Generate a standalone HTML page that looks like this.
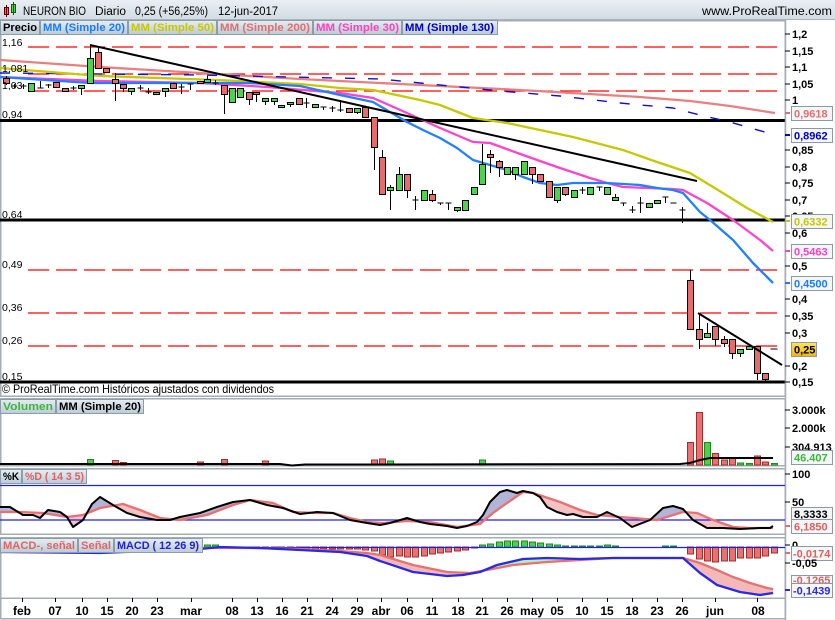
<!DOCTYPE html>
<html><head><meta charset="utf-8"><style>
html,body{margin:0;padding:0;background:#fff;}
svg{display:block;font-family:"Liberation Sans",Arial,sans-serif;}
.w{stroke:#000;stroke-width:1;fill:none}
.r{fill:#e46c6c;stroke:#000;stroke-width:1}
.g{fill:#4cd44c;stroke:#000;stroke-width:1}
.vr{fill:#e87272;stroke:#a52a2a;stroke-width:1}
.vg{fill:#4cd04c;stroke:#1a8a1a;stroke-width:1}
.ax{font-size:11px;font-weight:bold;fill:#000}
.lg{font-size:11px;font-weight:bold}
.xl{font-size:12px;font-weight:bold;fill:#000;text-anchor:middle}
.pl{font-size:10.5px;fill:#000}
</style></head><body>
<svg width="835" height="620" viewBox="0 0 835 620" xmlns="http://www.w3.org/2000/svg">
<defs>
<linearGradient id="tb" x1="0" y1="0" x2="0" y2="1"><stop offset="0" stop-color="#eaeff4"/><stop offset="1" stop-color="#d2dbe3"/></linearGradient>
<linearGradient id="lb" x1="0" y1="0" x2="0" y2="1"><stop offset="0" stop-color="#e6edf2"/><stop offset="1" stop-color="#bccbd6"/></linearGradient>
<linearGradient id="gold" x1="0" y1="0" x2="0" y2="1"><stop offset="0" stop-color="#ffe45a"/><stop offset="1" stop-color="#f0b800"/></linearGradient>
<clipPath id="aboveD"><polygon points="0,512 20,512 43,513 67,517 83,515 100,508 123,504 140,510 160,518 180,520 207,515 233,505 250,500 273,503 293,512 317,513 333,513 350,518 367,522 383,523 407,521 430,522 457,527 480,524 493,513 507,503 523,492 533,493 560,502 580,510 597,515 620,517 633,518 657,520 683,512 697,513 713,520 733,527 750,528 773,528 773,460 0,460"/></clipPath>
<clipPath id="belowD"><polygon points="0,512 20,512 43,513 67,517 83,515 100,508 123,504 140,510 160,518 180,520 207,515 233,505 250,500 273,503 293,512 317,513 333,513 350,518 367,522 383,523 407,521 430,522 457,527 480,524 493,513 507,503 523,492 533,493 560,502 580,510 597,515 620,517 633,518 657,520 683,512 697,513 713,520 733,527 750,528 773,528 773,540 0,540"/></clipPath>
<clipPath id="aboveS"><polygon points="0,549 100,549 200,548 250,548 300,549 340,551 367,553 380,555 413,565 447,572 470,573 487,570 513,565 547,562 580,560 613,558 683,558 700,563 717,570 733,577 750,583 767,588 773,589 773,537 0,537"/></clipPath>
<clipPath id="belowS"><polygon points="0,549 100,549 200,548 250,548 300,549 340,551 367,553 380,555 413,565 447,572 470,573 487,570 513,565 547,562 580,560 613,558 683,558 700,563 717,570 733,577 750,583 767,588 773,589 773,600 0,600"/></clipPath>
</defs>

<!-- Title bar -->
<rect x="0" y="0" width="835" height="20" fill="url(#tb)"/>
<line x1="0" y1="19.5" x2="835" y2="19.5" stroke="#a8b2ba"/>
<rect x="4.5" y="7.5" width="4" height="7" fill="#e46c6c" stroke="#600"/>
<line x1="6.5" y1="5" x2="6.5" y2="17" stroke="#600"/>
<rect x="11.5" y="4.5" width="4" height="8" fill="#4cd44c" stroke="#060"/>
<line x1="13.5" y1="2" x2="13.5" y2="15" stroke="#060"/>
<text x="23" y="15" font-size="11.5" textLength="63" lengthAdjust="spacingAndGlyphs">NEURON BIO</text>
<text x="95" y="15" font-size="11.5" textLength="31" lengthAdjust="spacingAndGlyphs">Diario</text>
<text x="135" y="15" font-size="11.5" textLength="73" lengthAdjust="spacingAndGlyphs">0,25 (+56,25%)</text>
<text x="218" y="15" font-size="11.5" textLength="60" lengthAdjust="spacingAndGlyphs">12-jun-2017</text>
<text x="702" y="15" font-size="12" textLength="130" lengthAdjust="spacingAndGlyphs">www.ProRealTime.com</text>

<!-- Panel borders -->
<g fill="none" stroke="#a4aeb6" stroke-width="1.5">
<rect x="0.75" y="20.75" width="784.5" height="375.5"/>
<rect x="0.75" y="398.75" width="784.5" height="67"/>
<rect x="0.75" y="468.75" width="784.5" height="65.5"/>
<rect x="0.75" y="537.75" width="784.5" height="60.5"/>
<rect x="0.75" y="598.25" width="784.5" height="20.5"/>
</g>

<!-- Main panel horizontal lines -->
<g stroke="#ff0000" stroke-width="1.3" stroke-dasharray="21 7">
<line x1="28" y1="47" x2="777" y2="47"/>
<line x1="28" y1="74" x2="777" y2="74"/>
<line x1="28" y1="91" x2="777" y2="91"/>
<line x1="28" y1="270" x2="777" y2="270"/>
<line x1="28" y1="313" x2="777" y2="313"/>
<line x1="28" y1="346" x2="777" y2="346"/>
</g>
<g stroke="#000" stroke-width="3">
<line x1="0" y1="120.5" x2="785" y2="120.5"/>
<line x1="0" y1="220" x2="785" y2="220"/>
<line x1="0" y1="382" x2="785" y2="382"/>
</g>

<!-- Moving averages -->
<g fill="none" stroke-width="2.3" stroke-linejoin="round">
<polyline stroke="#e88080" points="0,60 100,67 200,73 300,79 420,85 520,90 640,97 690,101 730,106 775,113"/>
<polyline stroke="#1010d0" stroke-width="1.4" stroke-dasharray="10 13" points="0,73 200,75 380,79 440,85 500,91 560,96 620,103 673,108 700,115 730,122 775,135"/>
<polyline stroke="#c8c800" points="0,68 100,76 217,80 300,84 340,88 373,90 420,100 440,105 473,118 507,123 573,137 623,150 657,162 690,173 718,190 747,208 773,222"/>
<polyline stroke="#ff44cc" points="0,77 100,81 200,83 267,87 340,93 373,98 407,113 440,128 473,142 490,143 523,155 557,167 590,178 607,183 623,187 673,189 683,190 707,203 733,220 760,240 773,251"/>
<polyline stroke="#2080ff" points="0,77 90,83 250,83 300,86 340,95 373,102 390,112 407,122 423,130 440,138 457,148 473,160 490,165 507,170 523,177 540,183 557,185 573,183 607,183 640,185 657,188 673,190 683,193 700,212 710,220 733,240 753,263 773,283"/>
</g>

<!-- Candles wicks -->
<path class="w" d="M6.5 76V85 M14.5 84V88 M11.5 86H17.5 M23.5 84V89 M20.5 86H26.5 M31.5 83V91 M40.5 81V88 M37.5 88H43.5 M48.5 84V88 M45.5 85H51.5 M56.5 82V87 M65.5 88V91 M73.5 86V90 M70.5 88H76.5 M81.5 85V95 M90.5 46V83 M98.5 48V68 M106.5 68V72 M115.5 73V101 M123.5 84V92 M131.5 88V95 M140.5 85V90 M137.5 88H143.5 M148.5 88V94 M145.5 92H151.5 M156.5 92V94 M165.5 88V97 M173.5 83V88 M181.5 84V94 M178.5 87H184.5 M190.5 84V90 M187.5 84H193.5 M200.5 81V83 M207.5 76V82 M215.5 80V85 M212.5 83H218.5 M224.5 85V114 M232.5 88V103 M240.5 88V97 M249.5 92V105 M256.5 92V102 M265.5 98V105 M274.5 98V105 M281.5 105V107 M290.5 102V107 M299.5 98V104 M306.5 98V108 M303.5 103H309.5 M315.5 104V107 M323.5 107V110 M320.5 107H326.5 M332.5 106V112 M329.5 108H335.5 M340.5 100V112 M337.5 110H343.5 M349.5 108V113 M357.5 108V114 M365.5 107V117 M374.5 117V170 M382.5 150V194 M390.5 185V210 M399.5 167V190 M407.5 174V198 M415.5 196V210 M412.5 200H418.5 M424.5 190V200 M432.5 190V202 M440.5 203V205 M437.5 203H443.5 M448.5 203V210 M445.5 203H451.5 M457.5 207V212 M465.5 200V210 M474.5 187V194 M482.5 144V184 M490.5 150V173 M499.5 160V177 M507.5 167V174 M515.5 167V180 M524.5 161V174 M532.5 167V184 M540.5 174V181 M549.5 181V197 M557.5 187V203 M565.5 187V196 M574.5 190V197 M582.5 187V194 M579.5 190H585.5 M590.5 187V194 M599.5 187V191 M596.5 187H602.5 M607.5 187V194 M615.5 194V200 M623.5 203V206 M620.5 203H626.5 M632.5 206V213 M629.5 210H635.5 M640.5 197V213 M637.5 203H643.5 M649.5 203V207 M657.5 200V203 M665.5 197V203 M662.5 197H668.5 M670.5 203H676.5 M682.5 207V223 M679.5 210H685.5 M690.5 270V329 M699.5 313V349 M707.5 323V337 M715.5 326V346 M724.5 336V347 M732.5 339V359 M740.5 349V357 M749.5 346V349 M757.5 346V380 M765.5 373V381 M770.5 349H777.5"/>
<!-- Candle bodies -->
<g>
<rect class="r" x="3.5" y="78.5" width="6" height="5"/>
<rect class="g" x="28.5" y="83.5" width="6" height="8"/>
<rect class="r" x="53.5" y="82.5" width="6" height="5"/>
<rect class="r" x="62.5" y="88.5" width="6" height="3"/>
<rect class="g" x="78.5" y="85.5" width="6" height="3"/>
<rect class="g" x="87.5" y="58.5" width="6" height="25"/>
<rect class="r" x="95.5" y="52.5" width="6" height="16"/>
<rect class="r" x="103.5" y="68.5" width="6" height="4"/>
<rect class="r" x="112.5" y="79.5" width="6" height="4"/>
<rect class="r" x="120.5" y="84.5" width="6" height="4"/>
<rect class="g" x="128.5" y="88.5" width="6" height="3"/>
<rect class="g" x="153.5" y="92.5" width="6" height="2"/>
<rect class="g" x="162.5" y="88.5" width="6" height="3"/>
<rect class="r" x="170.5" y="83.5" width="6" height="5"/>
<rect class="r" x="197.5" y="81.5" width="6" height="2"/>
<rect class="g" x="204.5" y="79.5" width="6" height="3"/>
<rect class="r" x="221.5" y="85.5" width="6" height="9"/>
<rect class="g" x="229.5" y="88.5" width="6" height="14"/>
<rect class="g" x="237.5" y="88.5" width="6" height="9"/>
<rect class="r" x="246.5" y="92.5" width="6" height="7"/>
<rect class="r" x="253.5" y="92.5" width="6" height="2"/>
<rect class="g" x="262.5" y="98.5" width="6" height="3"/>
<rect class="g" x="271.5" y="98.5" width="6" height="3"/>
<rect class="g" x="278.5" y="105.5" width="6" height="2"/>
<rect class="g" x="287.5" y="102.5" width="6" height="2"/>
<rect class="r" x="296.5" y="98.5" width="6" height="6"/>
<rect class="g" x="312.5" y="104.5" width="6" height="3"/>
<rect class="r" x="346.5" y="108.5" width="6" height="4"/>
<rect class="g" x="354.5" y="108.5" width="6" height="4"/>
<rect class="r" x="362.5" y="107.5" width="6" height="10"/>
<rect class="r" x="371.5" y="117.5" width="6" height="30"/>
<rect class="r" x="379.5" y="157.5" width="6" height="37"/>
<rect class="g" x="387.5" y="187.5" width="6" height="3"/>
<rect class="g" x="396.5" y="174.5" width="6" height="16"/>
<rect class="r" x="404.5" y="174.5" width="6" height="16"/>
<rect class="g" x="421.5" y="190.5" width="6" height="10"/>
<rect class="r" x="429.5" y="194.5" width="6" height="6"/>
<rect class="g" x="454.5" y="207.5" width="6" height="3"/>
<rect class="g" x="462.5" y="200.5" width="6" height="10"/>
<rect class="g" x="471.5" y="187.5" width="6" height="7"/>
<rect class="g" x="479.5" y="164.5" width="6" height="20"/>
<rect class="r" x="487.5" y="154.5" width="6" height="3"/>
<rect class="r" x="496.5" y="161.5" width="6" height="6"/>
<rect class="g" x="504.5" y="167.5" width="6" height="7"/>
<rect class="g" x="512.5" y="167.5" width="6" height="7"/>
<rect class="g" x="521.5" y="161.5" width="6" height="13"/>
<rect class="r" x="529.5" y="167.5" width="6" height="7"/>
<rect class="r" x="537.5" y="174.5" width="6" height="7"/>
<rect class="r" x="546.5" y="181.5" width="6" height="16"/>
<rect class="g" x="554.5" y="187.5" width="6" height="13"/>
<rect class="r" x="562.5" y="187.5" width="6" height="7"/>
<rect class="g" x="571.5" y="190.5" width="6" height="7"/>
<rect class="g" x="587.5" y="187.5" width="6" height="7"/>
<rect class="g" x="604.5" y="187.5" width="6" height="7"/>
<rect class="g" x="612.5" y="197.5" width="6" height="3"/>
<rect class="g" x="646.5" y="203.5" width="6" height="4"/>
<rect class="g" x="654.5" y="200.5" width="6" height="3"/>
<rect class="r" x="687.5" y="280.5" width="6" height="49"/>
<rect class="r" x="696.5" y="329.5" width="6" height="10"/>
<rect class="g" x="704.5" y="333.5" width="6" height="4"/>
<rect class="r" x="712.5" y="326.5" width="6" height="13"/>
<rect class="r" x="721.5" y="339.5" width="6" height="4"/>
<rect class="r" x="729.5" y="339.5" width="6" height="14"/>
<rect class="g" x="737.5" y="349.5" width="6" height="4"/>
<rect class="g" x="746.5" y="346.5" width="6" height="3"/>
<rect class="r" x="754.5" y="346.5" width="6" height="27"/>
<rect class="r" x="762.5" y="373.5" width="6" height="6"/>
</g>

<!-- Trend lines -->
<g stroke="#000" stroke-width="2">
<line x1="90" y1="45" x2="697" y2="181"/>
<line x1="698" y1="313" x2="782" y2="365"/>
</g>

<!-- Left labels -->
<g class="pl">
<text x="2" y="46">1,16</text>
<text x="2" y="72">1,081</text>
<text x="2" y="89">1,03</text>
<text x="2" y="118">0,94</text>
<text x="2" y="218">0,64</text>
<text x="2" y="268">0,49</text>
<text x="2" y="311">0,36</text>
<text x="2" y="344">0,26</text>
<text x="2" y="380">0,15</text>
</g>

<!-- Main legend -->
<g>
<rect x="0.5" y="20.5" width="39" height="14" fill="url(#lb)" stroke="#8c9ca8"/>
<rect x="40.5" y="20.5" width="87" height="14" fill="url(#lb)" stroke="#8c9ca8"/>
<rect x="128.5" y="20.5" width="88" height="14" fill="url(#lb)" stroke="#8c9ca8"/>
<rect x="217.5" y="20.5" width="95" height="14" fill="url(#lb)" stroke="#8c9ca8"/>
<rect x="313.5" y="20.5" width="88" height="14" fill="url(#lb)" stroke="#8c9ca8"/>
<rect x="402.5" y="20.5" width="95" height="14" fill="url(#lb)" stroke="#8c9ca8"/>
<text class="lg" x="3" y="31" fill="#000" textLength="34" lengthAdjust="spacingAndGlyphs">Precio</text>
<text class="lg" x="43" y="31" fill="#1a7cff" textLength="82" lengthAdjust="spacingAndGlyphs">MM (Simple 20)</text>
<text class="lg" x="131" y="31" fill="#c8c800" textLength="83" lengthAdjust="spacingAndGlyphs">MM (Simple 50)</text>
<text class="lg" x="220" y="31" fill="#e07070" textLength="90" lengthAdjust="spacingAndGlyphs">MM (Simple 200)</text>
<text class="lg" x="316" y="31" fill="#ff40c0" textLength="83" lengthAdjust="spacingAndGlyphs">MM (Simple 30)</text>
<text class="lg" x="405" y="31" fill="#0000c8" textLength="89" lengthAdjust="spacingAndGlyphs">MM (Simple 130)</text>
</g>

<text x="2" y="393" font-size="12" textLength="272" lengthAdjust="spacingAndGlyphs">© ProRealTime.com  Históricos ajustados con dividendos</text>

<!-- Right axis main -->
<line x1="785.5" y1="20" x2="785.5" y2="620" stroke="#a4aeb6" stroke-width="1.5"/>
<g stroke="#000"><path d="M785 34H790 M785 51H790 M785 67H790 M785 84H790 M785 100H790 M785 150H790 M785 167H790 M785 183H790 M785 200H790 M785 216H790 M785 233H790 M785 266H790 M785 299H790 M785 316H790 M785 333H790 M785 366H790 M785 382H790 M785 410H790 M785 428H790 M785 447H790 M785 474H790 M785 502H790 M785 545H790 M785 563H790"/></g>
<g class="ax">
<text x="792" y="38">1,2</text>
<text x="792" y="55">1,15</text>
<text x="792" y="71">1,1</text>
<text x="792" y="88">1,05</text>
<text x="792" y="104">1</text>
<text x="792" y="154">0,85</text>
<text x="792" y="171">0,8</text>
<text x="792" y="187">0,75</text>
<text x="792" y="204">0,7</text>
<text x="792" y="220">0,65</text>
<text x="792" y="237">0,6</text>
<text x="792" y="270">0,5</text>
<text x="792" y="303">0,4</text>
<text x="792" y="320">0,35</text>
<text x="792" y="337">0,3</text>
<text x="792" y="370">0,2</text>
<text x="792" y="386">0,15</text>
</g>
<!-- value boxes main -->
<g class="ax">
<path d="M785 113H790" stroke="#e07070" stroke-width="2"/>
<rect x="791.5" y="106.5" width="41" height="14" fill="#f4f6f8" stroke="#8c9aa6"/>
<text x="794" y="117.5" fill="#e07070">0,9618</text>
<path d="M785 135H790" stroke="#0000c8" stroke-width="2"/>
<rect x="791.5" y="128.5" width="41" height="14" fill="#f4f6f8" stroke="#8c9aa6"/>
<text x="794" y="139.5" fill="#0000c8">0,8962</text>
<path d="M785 221H790" stroke="#c8c800" stroke-width="2"/>
<rect x="791.5" y="214.5" width="41" height="14" fill="#f4f6f8" stroke="#8c9aa6"/>
<text x="794" y="225.5" fill="#c8c800">0,6332</text>
<path d="M785 251H790" stroke="#ff40c0" stroke-width="2"/>
<rect x="791.5" y="244.5" width="41" height="14" fill="#f4f6f8" stroke="#8c9aa6"/>
<text x="794" y="255.5" fill="#ff40c0">0,5463</text>
<path d="M785 283H790" stroke="#1a7cff" stroke-width="2"/>
<rect x="791.5" y="276.5" width="41" height="14" fill="#f4f6f8" stroke="#8c9aa6"/>
<text x="794" y="287.5" fill="#1a7cff">0,4500</text>
<rect x="791.5" y="342.5" width="25" height="14" fill="url(#gold)" stroke="#8c9aa6"/>
<text x="794" y="353.5" fill="#000">0,25</text>
</g>

<!-- Volume panel -->
<rect x="0.5" y="399.5" width="55" height="14" fill="url(#lb)" stroke="#8c9ca8"/>
<rect x="56.5" y="399.5" width="87" height="14" fill="url(#lb)" stroke="#8c9ca8"/>
<text class="lg" x="3" y="410" fill="#3cb83c" textLength="50" lengthAdjust="spacingAndGlyphs">Volumen</text>
<text class="lg" x="59" y="410" fill="#000" textLength="82" lengthAdjust="spacingAndGlyphs">MM (Simple 20)</text>
<g>
<rect class="vg" x="87.5" y="459.5" width="6" height="5.5"/>
<rect class="vr" x="112.5" y="460.5" width="6" height="4.5"/>
<rect class="vr" x="120.5" y="462.5" width="6" height="2.5"/>
<rect class="vr" x="197.5" y="462" width="6" height="3"/>
<rect class="vr" x="221.5" y="459.5" width="6" height="5.5"/>
<rect class="vr" x="262.5" y="461" width="6" height="4"/>
<rect class="vr" x="371.5" y="460" width="6" height="5"/>
<rect class="vr" x="379.5" y="459" width="6" height="6"/>
<rect class="vg" x="387.5" y="461" width="6" height="4"/>
<rect class="vg" x="479.5" y="460" width="6" height="5"/>
<rect class="vr" x="687.5" y="442.5" width="6" height="22.5"/>
<rect class="vr" x="696.5" y="412.5" width="6" height="52.5"/>
<rect class="vg" x="704.5" y="442.5" width="6" height="22.5"/>
<rect class="vr" x="712.5" y="453.5" width="6" height="11.5"/>
<rect class="vr" x="721.5" y="460" width="6" height="5"/>
<rect class="vr" x="729.5" y="458" width="6" height="7"/>
<rect class="vg" x="737.5" y="463" width="6" height="2"/>
<rect class="vg" x="746.5" y="463.5" width="6" height="1.5"/>
<rect class="vr" x="754.5" y="456" width="6" height="9"/>
<rect class="vr" x="762.5" y="462" width="6" height="3"/>
<rect class="vg" x="771.5" y="463.5" width="6" height="1.5"/>
</g>
<polyline fill="none" stroke="#000" stroke-width="2" points="0,464 280,464 292,465.5 305,464.5 340,464.5 680,464 690,463 700,460 710,458 773,458"/>
<g class="ax">
<text x="792" y="414">3.000k</text>
<text x="792" y="432">2.000k</text>
<text x="792" y="451">304.913</text>
<rect x="791.5" y="450.5" width="41" height="14" fill="#f4f6f8" stroke="#8c9aa6"/>
<text x="794" y="461.5" fill="#3cb83c">46.407</text>
</g>

<!-- Stochastic panel -->
<g clip-path="url(#aboveD)"><polygon fill="#b4b4d8" points="0,507 10,507 23,515 33,515 40,518 48,510 60,512 67,517 73,527 83,520 92,504 100,497 113,505 127,513 140,517 157,520 170,520 180,517 200,513 217,507 233,502 250,500 267,505 283,508 300,514 317,512 333,513 350,520 367,523 380,525 390,523 407,518 420,522 430,524 447,526 457,528 467,526 477,522 483,515 490,502 500,492 507,490 517,493 523,491 533,493 540,497 547,507 557,512 567,515 573,514 583,517 597,517 607,512 620,518 632,527 650,520 663,508 673,506 683,509 693,520 707,528 723,528 740,529 760,528 770,528 773,526 773,528 750,528 733,527 713,520 697,513 683,512 657,520 633,518 620,517 597,515 580,510 560,502 533,493 523,492 507,503 493,513 480,524 457,527 430,522 407,521 383,523 367,522 350,518 333,513 317,513 293,512 273,503 250,500 233,505 207,515 180,520 160,518 140,510 123,504 100,508 83,515 67,517 43,513 20,512 0,512"/></g>
<g clip-path="url(#belowD)"><polygon fill="#f4c2c2" points="0,507 10,507 23,515 33,515 40,518 48,510 60,512 67,517 73,527 83,520 92,504 100,497 113,505 127,513 140,517 157,520 170,520 180,517 200,513 217,507 233,502 250,500 267,505 283,508 300,514 317,512 333,513 350,520 367,523 380,525 390,523 407,518 420,522 430,524 447,526 457,528 467,526 477,522 483,515 490,502 500,492 507,490 517,493 523,491 533,493 540,497 547,507 557,512 567,515 573,514 583,517 597,517 607,512 620,518 632,527 650,520 663,508 673,506 683,509 693,520 707,528 723,528 740,529 760,528 770,528 773,526 773,528 750,528 733,527 713,520 697,513 683,512 657,520 633,518 620,517 597,515 580,510 560,502 533,493 523,492 507,503 493,513 480,524 457,527 430,522 407,521 383,523 367,522 350,518 333,513 317,513 293,512 273,503 250,500 233,505 207,515 180,520 160,518 140,510 123,504 100,508 83,515 67,517 43,513 20,512 0,512"/></g>
<g stroke="#2020e0" stroke-width="1.3">
<line x1="0" y1="485.5" x2="785" y2="485.5"/>
<line x1="0" y1="520" x2="785" y2="520"/>
</g>
<polyline fill="none" stroke="#e87070" stroke-width="2.3" stroke-linejoin="round" points="0,512 20,512 43,513 67,517 83,515 100,508 123,504 140,510 160,518 180,520 207,515 233,505 250,500 273,503 293,512 317,513 333,513 350,518 367,522 383,523 407,521 430,522 457,527 480,524 493,513 507,503 523,492 533,493 560,502 580,510 597,515 620,517 633,518 657,520 683,512 697,513 713,520 733,527 750,528 773,528"/>
<polyline fill="none" stroke="#000" stroke-width="2" stroke-linejoin="round" points="0,507 10,507 23,515 33,515 40,518 48,510 60,512 67,517 73,527 83,520 92,504 100,497 113,505 127,513 140,517 157,520 170,520 180,517 200,513 217,507 233,502 250,500 267,505 283,508 300,514 317,512 333,513 350,520 367,523 380,525 390,523 407,518 420,522 430,524 447,526 457,528 467,526 477,522 483,515 490,502 500,492 507,490 517,493 523,491 533,493 540,497 547,507 557,512 567,515 573,514 583,517 597,517 607,512 620,518 632,527 650,520 663,508 673,506 683,509 693,520 707,528 723,528 740,529 760,528 770,528 773,526"/>
<rect x="0.5" y="469.5" width="21" height="14" fill="url(#lb)" stroke="#8c9ca8"/>
<rect x="22.5" y="469.5" width="64" height="14" fill="url(#lb)" stroke="#8c9ca8"/>
<text class="lg" x="3" y="480" fill="#000" textLength="16" lengthAdjust="spacingAndGlyphs">%K</text>
<text class="lg" x="25" y="480" fill="#e06060" textLength="59" lengthAdjust="spacingAndGlyphs">%D ( 14 3 5)</text>
<g class="ax">
<text x="792" y="478">100</text>
<text x="792" y="506">50</text>
<rect x="791.5" y="507.5" width="41" height="13" fill="#f4f6f8" stroke="#8c9aa6"/>
<text x="794" y="518">8,3333</text>
<path d="M785 526H790" stroke="#e07070" stroke-width="2"/>
<rect x="791.5" y="519.5" width="41" height="14" fill="#f4f6f8" stroke="#8c9aa6"/>
<text x="794" y="530.5" fill="#e06060">6,1850</text>
</g>

<!-- MACD panel -->
<g clip-path="url(#belowS)"><polygon fill="#f4b8b8" points="0,552 100,553 200,549 220,547 260,548 300,550 340,552 367,556 380,561 413,572 447,576 463,575 480,572 497,565 523,559 547,558 580,559 613,558 683,558 700,573 717,585 740,592 760,595 773,593 773,589 767,588 750,583 733,577 717,570 700,563 683,558 613,558 580,560 547,562 513,565 487,570 470,573 447,572 413,565 380,555 367,553 340,551 300,549 250,548 200,548 100,549 0,549"/></g>
<g clip-path="url(#aboveS)"><polygon fill="#b4f0b4" points="0,552 100,553 200,549 220,547 260,548 300,550 340,552 367,556 380,561 413,572 447,576 463,575 480,572 497,565 523,559 547,558 580,559 613,558 683,558 700,573 717,585 740,592 760,595 773,593 773,589 767,588 750,583 733,577 717,570 700,563 683,558 613,558 580,560 547,562 513,565 487,570 470,573 447,572 413,565 380,555 367,553 340,551 300,549 250,548 200,548 100,549 0,549"/></g>
<g>
<rect class="vg" x="204.5" y="545" width="6" height="2"/>
<rect class="vg" x="212.5" y="545" width="6" height="2"/>
<rect class="vr" x="246.5" y="547" width="6" height="1"/>
<rect class="vr" x="253.5" y="547" width="6" height="1"/>
<rect class="vr" x="262.5" y="547" width="6" height="1"/>
<rect class="vr" x="271.5" y="547" width="6" height="1"/>
<rect class="vr" x="278.5" y="547" width="6" height="1"/>
<rect class="vr" x="287.5" y="547" width="6" height="2"/>
<rect class="vr" x="296.5" y="547" width="6" height="2"/>
<rect class="vr" x="303.5" y="547" width="6" height="2"/>
<rect class="vr" x="312.5" y="547" width="6" height="2"/>
<rect class="vr" x="320.5" y="547" width="6" height="2"/>
<rect class="vr" x="329.5" y="547" width="6" height="2"/>
<rect class="vr" x="337.5" y="547" width="6" height="2"/>
<rect class="vr" x="346.5" y="547" width="6" height="2"/>
<rect class="vr" x="354.5" y="547" width="6" height="2"/>
<rect class="vr" x="362.5" y="547" width="6" height="3"/>
<rect class="vr" x="371.5" y="547" width="6" height="4"/>
<rect class="vr" x="379.5" y="547" width="6" height="8"/>
<rect class="vr" x="387.5" y="547" width="6" height="10"/>
<rect class="vr" x="396.5" y="547" width="6" height="9"/>
<rect class="vr" x="404.5" y="547" width="6" height="10"/>
<rect class="vr" x="412.5" y="547" width="6" height="10"/>
<rect class="vr" x="421.5" y="547" width="6" height="9"/>
<rect class="vr" x="429.5" y="547" width="6" height="7"/>
<rect class="vr" x="437.5" y="547" width="6" height="6"/>
<rect class="vr" x="445.5" y="547" width="6" height="5"/>
<rect class="vr" x="454.5" y="547" width="6" height="4"/>
<rect class="vr" x="462.5" y="547" width="6" height="3"/>
<rect class="vr" x="471.5" y="547" width="6" height="1"/>
<rect class="vg" x="479.5" y="545" width="6" height="2"/>
<rect class="vg" x="487.5" y="544" width="6" height="3"/>
<rect class="vg" x="496.5" y="542" width="6" height="5"/>
<rect class="vg" x="504.5" y="541" width="6" height="6"/>
<rect class="vg" x="512.5" y="541" width="6" height="6"/>
<rect class="vg" x="521.5" y="541" width="6" height="6"/>
<rect class="vg" x="529.5" y="542" width="6" height="5"/>
<rect class="vg" x="537.5" y="543" width="6" height="4"/>
<rect class="vg" x="546.5" y="544" width="6" height="3"/>
<rect class="vg" x="554.5" y="545" width="6" height="2"/>
<rect class="vg" x="562.5" y="546" width="6" height="1"/>
<rect class="vg" x="571.5" y="546" width="6" height="1"/>
<rect class="vg" x="579.5" y="546" width="6" height="1"/>
<rect class="vg" x="587.5" y="546" width="6" height="1"/>
<rect class="vg" x="596.5" y="546" width="6" height="1"/>
<rect class="vg" x="604.5" y="545" width="6" height="2"/>
<rect class="vg" x="612.5" y="546" width="6" height="1"/>
<rect class="vg" x="662.5" y="546" width="6" height="1"/>
<rect class="vg" x="670.5" y="546" width="6" height="1"/>
<rect class="vr" x="687.5" y="547" width="6" height="7"/>
<rect class="vr" x="696.5" y="547" width="6" height="12"/>
<rect class="vr" x="704.5" y="547" width="6" height="14"/>
<rect class="vr" x="712.5" y="547" width="6" height="15"/>
<rect class="vr" x="721.5" y="547" width="6" height="14"/>
<rect class="vr" x="729.5" y="547" width="6" height="14"/>
<rect class="vr" x="737.5" y="547" width="6" height="11"/>
<rect class="vr" x="746.5" y="547" width="6" height="11"/>
<rect class="vr" x="754.5" y="547" width="6" height="11"/>
<rect class="vr" x="762.5" y="547" width="6" height="9"/>
<rect class="vr" x="771.5" y="547" width="6" height="6"/>
</g>
<line x1="0" y1="547.5" x2="785" y2="547.5" stroke="#2020e0" stroke-width="1.3"/>
<polyline fill="none" stroke="#e87070" stroke-width="2.3" stroke-linejoin="round" points="0,549 100,549 200,548 250,548 300,549 340,551 367,553 380,555 413,565 447,572 470,573 487,570 513,565 547,562 580,560 613,558 683,558 700,563 717,570 733,577 750,583 767,588 773,589"/>
<polyline fill="none" stroke="#2a2ae0" stroke-width="2.3" stroke-linejoin="round" points="0,552 100,553 200,549 220,547 260,548 300,550 340,552 367,556 380,561 413,572 447,576 463,575 480,572 497,565 523,559 547,558 580,559 613,558 683,558 700,573 717,585 740,592 760,595 773,593"/>
<rect x="0.5" y="538.5" width="77" height="14" fill="url(#lb)" stroke="#8c9ca8"/>
<rect x="78.5" y="538.5" width="35" height="14" fill="url(#lb)" stroke="#8c9ca8"/>
<rect x="114.5" y="538.5" width="88" height="14" fill="url(#lb)" stroke="#8c9ca8"/>
<text class="lg" x="3" y="549" fill="#e06666" textLength="72" lengthAdjust="spacingAndGlyphs">MACD-, señal</text>
<text class="lg" x="81" y="549" fill="#e06666" textLength="30" lengthAdjust="spacingAndGlyphs">Señal</text>
<text class="lg" x="117" y="549" fill="#2020e0" textLength="82" lengthAdjust="spacingAndGlyphs">MACD ( 12 26 9)</text>
<g class="ax">
<text x="792" y="549">0</text>
<path d="M785 553H790" stroke="#e07070" stroke-width="2"/>
<rect x="791.5" y="546.5" width="41" height="14" fill="#f4f6f8" stroke="#8c9aa6"/>
<text x="793" y="557.5" fill="#e06060">-0,0174</text>
<text x="792" y="567">-0,05</text>
<rect x="791.5" y="575.5" width="41" height="10" fill="#f4f6f8" stroke="#8c9aa6"/>
<text x="793" y="584" fill="#e06060">-0,1265</text>
<path d="M785 590H790" stroke="#2a2ae0" stroke-width="2"/>
<rect x="791.5" y="583.5" width="41" height="14" fill="#f4f6f8" stroke="#8c9aa6"/>
<text x="793" y="594.5" fill="#2a2ae0">-0,1439</text>
</g>

<!-- X axis -->
<path stroke="#000" d="M22.5 598V602 M55.5 598V602 M82.5 598V602 M107.5 598V602 M132.5 598V602 M157.5 598V602 M191.5 598V602 M232.5 598V602 M257.5 598V602 M282.5 598V602 M307.5 598V602 M332.5 598V602 M357.5 598V602 M381.5 598V602 M407.5 598V602 M432.5 598V602 M458.5 598V602 M482.5 598V602 M507.5 598V602 M532.5 598V602 M557.5 598V602 M582.5 598V602 M607.5 598V602 M632.5 598V602 M657.5 598V602 M682.5 598V602 M715.5 598V602 M757.5 598V602"/>
<g class="xl">
<text x="22" y="615">feb</text>
<text x="55" y="615">07</text>
<text x="82" y="615">10</text>
<text x="107" y="615">15</text>
<text x="132" y="615">20</text>
<text x="157" y="615">23</text>
<text x="191" y="615">mar</text>
<text x="232" y="615">08</text>
<text x="257" y="615">13</text>
<text x="282" y="615">16</text>
<text x="307" y="615">21</text>
<text x="332" y="615">24</text>
<text x="357" y="615">29</text>
<text x="381" y="615">abr</text>
<text x="407" y="615">06</text>
<text x="432" y="615">11</text>
<text x="458" y="615">18</text>
<text x="482" y="615">21</text>
<text x="507" y="615">26</text>
<text x="532" y="615">may</text>
<text x="557" y="615">05</text>
<text x="582" y="615">10</text>
<text x="607" y="615">15</text>
<text x="632" y="615">18</text>
<text x="657" y="615">23</text>
<text x="682" y="615">26</text>
<text x="715" y="615">jun</text>
<text x="758" y="615">08</text>
</g>
</svg>
</body></html>
